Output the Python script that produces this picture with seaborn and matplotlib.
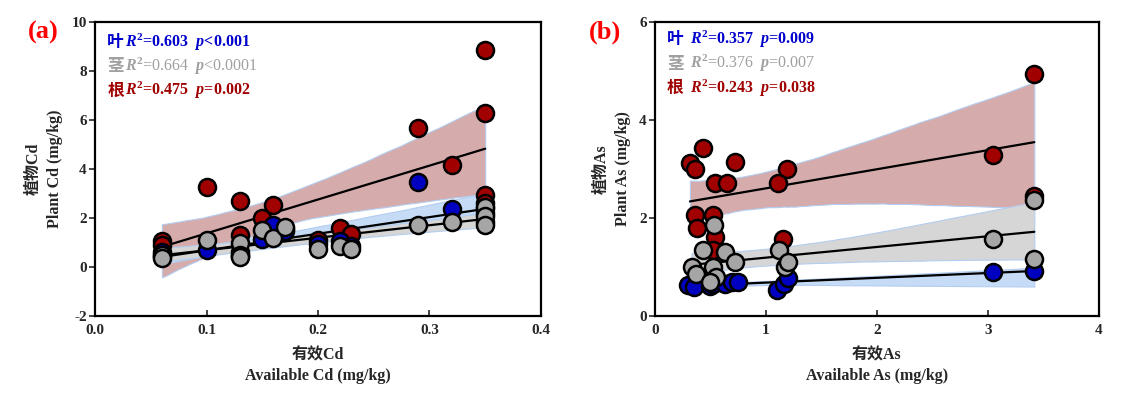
import numpy as np
import pandas as pd
import matplotlib
matplotlib.use('Agg')
import matplotlib.pyplot as plt
import seaborn as sns

# ---- panel (a): Cd ----
cd_leaf_x = [0.06, 0.06, 0.10, 0.13, 0.13, 0.15, 0.16, 0.17, 0.20, 0.22, 0.23, 0.29, 0.32, 0.35, 0.35, 0.35]
cd_leaf_y = [0.60, 0.45, 0.70, 0.60, 0.45, 1.15, 1.70, 1.45, 0.95, 1.05, 0.85, 3.45, 2.35, 2.40, 2.20, 1.85]
cd_stem_x = [0.06, 0.06, 0.10, 0.13, 0.13, 0.13, 0.15, 0.16, 0.17, 0.20, 0.22, 0.23, 0.29, 0.32, 0.35, 0.35, 0.35]
cd_stem_y = [0.50, 0.35, 1.10, 1.00, 0.50, 0.40, 1.50, 1.20, 1.65, 0.72, 0.85, 0.72, 1.72, 1.85, 2.45, 2.10, 1.70]
cd_root_x = [0.06, 0.06, 0.10, 0.13, 0.13, 0.15, 0.16, 0.17, 0.20, 0.22, 0.23, 0.29, 0.32, 0.35, 0.35, 0.35, 0.35]
cd_root_y = [1.05, 0.90, 3.28, 2.68, 1.30, 2.00, 2.52, 1.55, 1.10, 1.60, 1.35, 5.68, 4.18, 8.85, 6.30, 2.95, 2.60]

# ---- panel (b): As ----
as_leaf_x = [0.30, 0.35, 0.50, 0.52, 0.63, 0.69, 0.75, 1.10, 1.16, 1.20, 3.05, 3.42]
as_leaf_y = [0.63, 0.60, 0.62, 0.66, 0.65, 0.70, 0.70, 0.53, 0.65, 0.78, 0.90, 0.92]
as_stem_x = [0.33, 0.37, 0.43, 0.53, 0.52, 0.55, 0.50, 0.63, 0.72, 1.12, 1.17, 1.20, 3.05, 3.42, 3.42]
as_stem_y = [1.00, 0.85, 1.35, 1.85, 1.00, 0.80, 0.70, 1.30, 1.10, 1.35, 1.00, 1.10, 1.57, 2.37, 1.17]
as_root_x = [0.315, 0.36, 0.435, 0.72, 0.54, 0.645, 1.19, 1.11, 0.36, 0.525, 0.375, 0.54, 0.52, 1.155, 3.05, 3.42, 3.42]
as_root_y = [3.12, 3.01, 3.42, 3.14, 2.71, 2.71, 3.01, 2.71, 2.06, 2.06, 1.79, 1.62, 1.35, 1.58, 3.28, 4.93, 2.45]

tissues = ['叶', '茎', '根']
stats_cd = [('=0.603', '<0.001'), ('=0.664', '<0.0001'), ('=0.475', '=0.002')]
stats_as = [('=0.357', '=0.009'), ('=0.376', '=0.007'), ('=0.243', '=0.038')]

point_colors = {'叶': '#0000c0', '茎': '#a6a6a6', '根': '#a00000'}
text_colors = {'叶': '#0000cc', '茎': '#a0a0a0', '根': '#a00000'}
band_colors = {'叶': '#c6dcf6', '茎': '#d6d6d6', '根': '#d5abab'}

sns.set_style('ticks')
plt.rcParams['font.family'] = ['Liberation Serif', 'Noto Sans CJK SC', 'DejaVu Sans']
plt.rcParams['font.weight'] = 'bold'
plt.rcParams['axes.unicode_minus'] = False
plt.rcParams['mathtext.fontset'] = 'custom'
plt.rcParams['mathtext.rm'] = 'Liberation Serif:bold'
plt.rcParams['mathtext.it'] = 'Liberation Serif:italic:bold'
plt.rcParams['mathtext.bf'] = 'Liberation Serif:bold'

fig = plt.figure(figsize=(11.26, 3.94), dpi=100)
ax_a = fig.add_axes([0.0844, 0.198, 0.396, 0.746])
ax_b = fig.add_axes([0.5817, 0.198, 0.394, 0.746])


def make_df(leaf, stem, root):
    frames = []
    for name, (x, y) in zip(tissues, [leaf, stem, root]):
        frames.append(pd.DataFrame({'x': x, 'y': y, 'tissue': name}))
    return pd.concat(frames, ignore_index=True)


def draw_panel(ax, df, stats, letter, xlim, xticks, ylim, yticks, xlab, ylab, tx, ty):
    # fitted lines + 95% bands, root first so leaf/stem bands sit on top
    for name in ['根', '叶', '茎']:
        sub = df[df.tissue == name]
        n_before = len(ax.collections)
        sns.regplot(data=sub, x='x', y='y', ax=ax, scatter=False, ci=95, seed=1,
                    n_boot=2000, color=band_colors[name],
                    line_kws={'color': 'black', 'lw': 1.6})
        for coll in ax.collections[n_before:]:
            coll.set_facecolor(band_colors[name])
            coll.set_alpha(1)
            coll.set_edgecolor('#b3cdf0')
            coll.set_linewidth(0.8)
    for name in ['根', '叶', '茎']:
        sub = df[df.tissue == name]
        sns.scatterplot(data=sub, x='x', y='y', ax=ax, s=150, color=point_colors[name],
                        edgecolor='black', linewidth=1.8, zorder=3, legend=False)

    ax.set_xlim(*xlim)
    ax.set_ylim(*ylim)
    ax.set_xticks(xticks)
    ax.set_yticks(yticks)
    ax.tick_params(axis='x', direction='in', length=4, width=1.2, labelsize=11, pad=6)
    ax.tick_params(axis='y', direction='out', length=4, width=1.2, labelsize=11, pad=2)
    for sp in ax.spines.values():
        sp.set_linewidth(1.6)
        sp.set_color('black')
    ax.set_xlabel(xlab, fontsize=11.5, fontweight='bold', labelpad=7, linespacing=1.45)
    ax.set_ylabel(ylab, fontsize=11.5, fontweight='bold', labelpad=6, linespacing=1.45)

    ys = [ty, ty - 0.083, ty - 0.166]
    for name, (r2, p), yy in zip(tissues, stats, ys):
        wt = 'normal' if name == '茎' else 'bold'
        ax.text(0.027, yy, name, transform=ax.transAxes, color=text_colors[name],
                fontsize=12, fontweight='bold', va='center',
                family=['Noto Sans CJK SC'])
        ax.text(tx, yy, r'$R^2$' + r2 + r'  $p$' + p, transform=ax.transAxes,
                color=text_colors[name], fontsize=11.5, fontweight=wt, va='center',
                family=['Liberation Serif'])

    ax.text(-0.15, 0.965, letter, transform=ax.transAxes, color='#ff0000',
            fontsize=19, fontweight='bold', va='center', family=['Liberation Serif'])


df_cd = make_df((cd_leaf_x, cd_leaf_y), (cd_stem_x, cd_stem_y), (cd_root_x, cd_root_y))
df_as = make_df((as_leaf_x, as_leaf_y), (as_stem_x, as_stem_y), (as_root_x, as_root_y))

draw_panel(ax_a, df_cd, stats_cd, '(a)', (0, 0.4), [0.0, 0.1, 0.2, 0.3, 0.4],
           (-2, 10), [-2, 0, 2, 4, 6, 8, 10],
           '有效Cd\nAvailable Cd (mg/kg)', '植物Cd\nPlant Cd (mg/kg)', 0.067, 0.932)
ax_a.set_xticklabels(['0.0', '0.1', '0.2', '0.3', '0.4'])

draw_panel(ax_b, df_as, stats_as, '(b)', (0, 4), [0, 1, 2, 3, 4],
           (0, 6), [0, 2, 4, 6],
           '有效As\nAvailable As (mg/kg)', '植物As\nPlant As (mg/kg)', 0.079, 0.942)

fig.savefig('out.png', dpi=100)
